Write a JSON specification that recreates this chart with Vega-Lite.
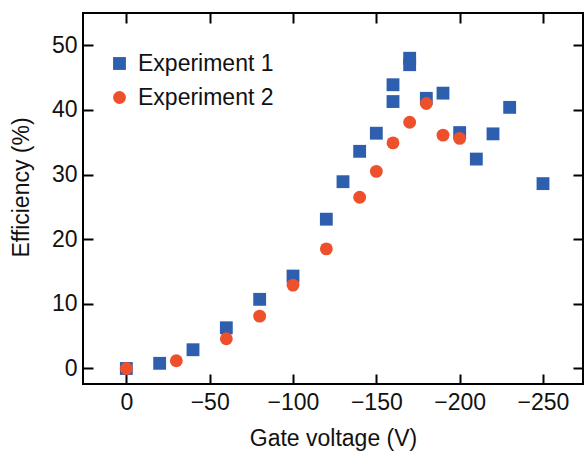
{
  "$schema": "https://vega.github.io/schema/vega-lite/v6.json",
  "width": 500,
  "height": 371,
  "autosize": "none",
  "padding": {"left": 83, "top": 13, "right": 2, "bottom": 69},
  "background": "white",
  "config": {
    "view": {"stroke": "black", "strokeWidth": 2},
    "font": "Liberation Sans",
    "axis": {
      "grid": false,
      "domain": false,
      "tickColor": "black",
      "tickWidth": 2,
      "labelFontSize": 23,
      "labelColor": "#111",
      "titleFontSize": 23,
      "titleFontWeight": "normal",
      "titleColor": "#111"
    }
  },
  "data": {
    "values": [
      {"V": 0, "E": 0, "Series": "Experiment 1"},
      {"V": -20, "E": 0.8, "Series": "Experiment 1"},
      {"V": -40, "E": 2.9, "Series": "Experiment 1"},
      {"V": -60, "E": 6.3, "Series": "Experiment 1"},
      {"V": -80, "E": 10.7, "Series": "Experiment 1"},
      {"V": -100, "E": 14.3, "Series": "Experiment 1"},
      {"V": -120, "E": 23.1, "Series": "Experiment 1"},
      {"V": -130, "E": 28.9, "Series": "Experiment 1"},
      {"V": -140, "E": 33.6, "Series": "Experiment 1"},
      {"V": -150, "E": 36.4, "Series": "Experiment 1"},
      {"V": -160, "E": 41.3, "Series": "Experiment 1"},
      {"V": -160, "E": 43.9, "Series": "Experiment 1"},
      {"V": -170, "E": 47.0, "Series": "Experiment 1"},
      {"V": -170, "E": 48.0, "Series": "Experiment 1"},
      {"V": -180, "E": 41.8, "Series": "Experiment 1"},
      {"V": -190, "E": 42.6, "Series": "Experiment 1"},
      {"V": -200, "E": 36.5, "Series": "Experiment 1"},
      {"V": -210, "E": 32.4, "Series": "Experiment 1"},
      {"V": -220, "E": 36.3, "Series": "Experiment 1"},
      {"V": -230, "E": 40.4, "Series": "Experiment 1"},
      {"V": -250, "E": 28.6, "Series": "Experiment 1"},
      {"V": 0, "E": 0, "Series": "Experiment 2"},
      {"V": -30, "E": 1.2, "Series": "Experiment 2"},
      {"V": -60, "E": 4.6, "Series": "Experiment 2"},
      {"V": -80, "E": 8.1, "Series": "Experiment 2"},
      {"V": -100, "E": 12.9, "Series": "Experiment 2"},
      {"V": -120, "E": 18.5, "Series": "Experiment 2"},
      {"V": -140, "E": 26.5, "Series": "Experiment 2"},
      {"V": -150, "E": 30.5, "Series": "Experiment 2"},
      {"V": -160, "E": 34.9, "Series": "Experiment 2"},
      {"V": -170, "E": 38.1, "Series": "Experiment 2"},
      {"V": -180, "E": 41.0, "Series": "Experiment 2"},
      {"V": -190, "E": 36.1, "Series": "Experiment 2"},
      {"V": -200, "E": 35.6, "Series": "Experiment 2"}
    ]
  },
  "layer": [
    {
      "mark": {"type": "point", "filled": true, "opacity": 1, "size": 165},
      "encoding": {
        "x": {
          "field": "V", "type": "quantitative",
          "scale": {"domain": [26, -274], "nice": false, "zero": false},
          "axis": {"orient": "bottom", "values": [0, -50, -100, -150, -200, -250], "ticks": false, "title": "Gate voltage (V)", "labelPadding": 7, "titlePadding": 13}
        },
        "y": {
          "field": "E", "type": "quantitative",
          "scale": {"domain": [-2.4, 55], "nice": false, "zero": false},
          "axis": {"orient": "left", "values": [0, 10, 20, 30, 40, 50], "ticks": false, "title": "Efficiency (%)", "labelPadding": 6, "titlePadding": 18, "titleY": 174}
        },
        "color": {
          "field": "Series", "type": "nominal",
          "scale": {"domain": ["Experiment 1", "Experiment 2"], "range": ["#2E5EAE", "#EE502C"]},
          "legend": {
            "title": null, "orient": "none", "legendX": 25, "legendY": 39,
            "padding": 0, "labelFontSize": 23, "labelColor": "#111", "symbolSize": 165,
            "rowPadding": 10, "labelOffset": 7, "symbolOpacity": 1
          }
        },
        "shape": {
          "field": "Series", "type": "nominal",
          "scale": {"domain": ["Experiment 1", "Experiment 2"], "range": ["square", "circle"]}
        }
      }
    },
    {
      "mark": {"type": "point", "opacity": 0},
      "encoding": {
        "x": {
          "field": "V", "type": "quantitative",
          "axis": {"orient": "top", "offset": -10, "tickSize": 10, "values": [0, -50, -100, -150, -200, -250], "labels": false, "title": null}
        },
        "y": {
          "field": "E", "type": "quantitative",
          "axis": {"orient": "right", "offset": -10, "tickSize": 10, "values": [0, 10, 20, 30, 40, 50], "labels": false, "title": null}
        }
      }
    },
    {
      "mark": {"type": "point", "opacity": 0},
      "encoding": {
        "x": {
          "field": "V", "type": "quantitative",
          "axis": {"orient": "bottom", "offset": -10, "tickSize": 10, "values": [0, -50, -100, -150, -200, -250], "labels": false, "title": null}
        },
        "y": {
          "field": "E", "type": "quantitative",
          "axis": {"orient": "left", "offset": -10, "tickSize": 10, "values": [0, 10, 20, 30, 40, 50], "labels": false, "title": null}
        }
      }
    }
  ],
  "resolve": {"axis": {"x": "independent", "y": "independent"}}
}
